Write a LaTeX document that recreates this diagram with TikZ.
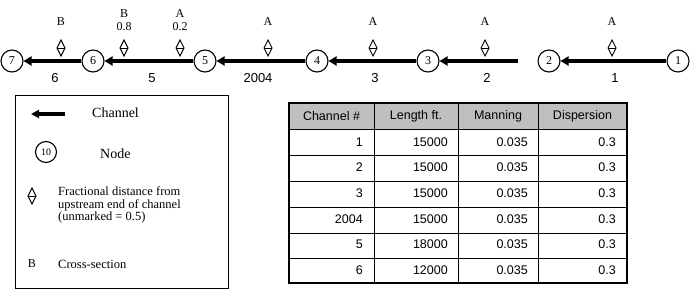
\documentclass[tikz,border=0pt]{standalone}
\usepackage{fontspec}
\setmainfont{Liberation Serif}
\setsansfont{Liberation Sans}
\usepackage{tikz}
\usetikzlibrary{arrows.meta,calc}
\tikzset{
  junction/.style={draw=black, circle, line width=1.1pt, minimum size=22pt,
                   inner sep=0pt, font=\fontsize{12}{12}\selectfont},
  channel/.style={draw=black, line width=4pt, -{Triangle[length=8pt,width=9pt]}},
  xsmark/.style={draw=black, line width=0.9pt},
  xslabel/.style={font=\fontsize{12}{13}\selectfont, inner sep=0pt, align=center},
  chlabel/.style={font=\sffamily\fontsize{13}{13}\selectfont, inner sep=0pt},
  legtext/.style={font=\fontsize{12.5}{12.5}\selectfont, inner sep=0pt, anchor=west, align=left},
  tabtext/.style={font=\sffamily\fontsize{12.5}{13}\selectfont, inner sep=0pt},
  grid/.style={draw=black, line width=0.8pt},
  frame/.style={draw=black, line width=2pt}
}
\newcommand{\xsdiamond}[2]{%
  \draw[xsmark] (#1,#2-8) -- (#1+4,#2) -- (#1,#2+8) -- (#1-4,#2) -- cycle;
  \draw[xsmark] (#1-4,#2) -- (#1+4,#2);
}

\begin{document}
\begin{tikzpicture}[x=1pt,y=-1pt]
  \useasboundingbox (0,0) rectangle (700,302);

  % Network nodes along the reach.
  \node[junction] (n7) at (12,61) {7};
  \node[junction] (n6) at (93,61) {6};
  \node[junction] (n5) at (205,61) {5};
  \node[junction] (n4) at (317,61) {4};
  \node[junction] (n3) at (428,61) {3};
  \node[junction] (n2) at (549,61) {2};
  \node[junction] (n1) at (678,61) {1};

  % Channels, flowing right to left.
  \draw[channel] (n1) -- (n2);
  \draw[channel, shorten <=19pt] (n2) -- (n3);
  \draw[channel] (n3) -- (n4);
  \draw[channel] (n4) -- (n5);
  \draw[channel] (n5) -- (n6);
  \draw[channel] (n6) -- (n7);

  % Channel numbers.
  \node[chlabel] (c6) at (55,78) {6};
  \node[chlabel] (c5) at (152,78) {5};
  \node[chlabel] (c4) at (258,78) {2004};
  \node[chlabel] (c3) at (375,78) {3};
  \node[chlabel] (c2) at (487,78) {2};
  \node[chlabel] (c1) at (615,78) {1};

  % Cross-section markers and labels.
  \xsdiamond{61}{48}
  \xsdiamond{124}{48}
  \xsdiamond{180}{48}
  \xsdiamond{268}{48}
  \xsdiamond{373}{48}
  \xsdiamond{485}{48}
  \xsdiamond{612}{48}
  \node[xslabel] (x6) at (61,22) {B};
  \node[xslabel] (x5b) at (124,20) {B\\0.8};
  \node[xslabel] (x5a) at (180,20) {A\\0.2};
  \node[xslabel] (x4) at (268,22) {A};
  \node[xslabel] (x3) at (373,22) {A};
  \node[xslabel] (x2) at (485,22) {A};
  \node[xslabel] (x1) at (612,22) {A};

  % Legend.
  \draw[line width=0.8pt] (15,95) rectangle (228,288);
  \coordinate (la) at (65,114);
  \coordinate (lb) at (31,114);
  \draw[channel, -{Triangle[length=8pt,width=8pt]}] (la) -- (lb);
  \node[legtext, font=\fontsize{14}{14}\selectfont] (lchan) at (92,113) {Channel};
  \node[junction, minimum size=21pt, font=\fontsize{10}{10}\selectfont] (lnode) at (46,152) {10};
  \node[legtext, font=\fontsize{14}{14}\selectfont] (lnodet) at (100,154) {Node};
  \xsdiamond{32}{196}
  \node[legtext] (lfrac) at (58,205) {Fractional distance from\\upstream end of channel\\(unmarked = 0.5)};
  \node[xslabel] (lb2) at (32,264) {B};
  \node[legtext] (lxs) at (58,264) {Cross-section};

  % Channel table.
  \fill[black!25] (289,103) rectangle (627,129);
  \foreach \y in {129,155,181,207,233,258}
    \draw[grid] (289,\y) -- (627,\y);
  \foreach \x in {374,458,538}
    \draw[grid] (\x,103) -- (\x,283);
  \draw[frame] (289,103) rectangle (627,283);
  \node[tabtext] (h1) at (331.5,116) {Channel \#};
  \node[tabtext] (h2) at (416,116) {Length ft.};
  \node[tabtext] (h3) at (498,116) {Manning};
  \node[tabtext] (h4) at (582.5,116) {Dispersion};
  \foreach \ch/\len/\man/\dsp [count=\i] in
      {1/15000/0.035/0.3, 2/15000/0.035/0.3, 3/15000/0.035/0.3,
       2004/15000/0.035/0.3, 5/18000/0.035/0.3, 6/12000/0.035/0.3} {
    \pgfmathsetmacro{\yy}{129+25.7*(\i-0.5)}
    \node[tabtext, anchor=east] (r\i a) at (363,\yy) {\ch};
    \node[tabtext, anchor=east] (r\i b) at (448,\yy) {\len};
    \node[tabtext, anchor=east] (r\i c) at (528,\yy) {\man};
    \node[tabtext, anchor=east] (r\i d) at (616,\yy) {\dsp};
  }
\end{tikzpicture}
\end{document}
